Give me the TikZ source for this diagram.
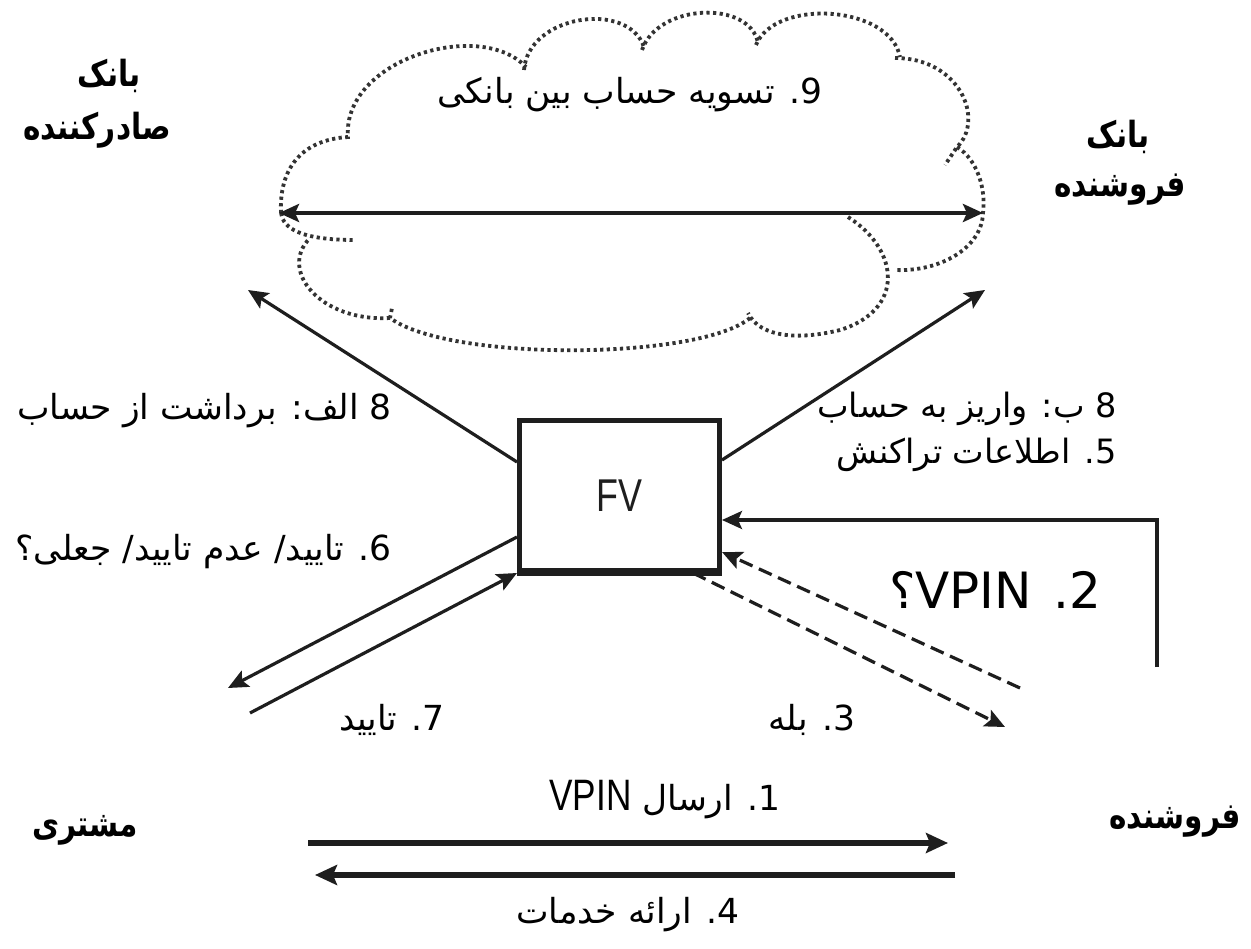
\documentclass[tikz,border=0pt]{standalone}
\usepackage{fontspec}
\usetikzlibrary{arrows.meta,calc}
\TeXXeTstate=1
\setmainfont{Liberation Sans}
\newfontfamily\ar[Script=Arabic]{DejaVu Sans}
\newfontfamily\dv{DejaVu Sans}
\definecolor{ink}{HTML}{1E1E1E}
\definecolor{cloudc}{HTML}{333333}
\newcommand{\bl}[1]{\scalebox{0.82}[1]{\beginR #1\endR}}
\begin{document}
\begin{tikzpicture}[x=1pt,y=-1pt,
  lbl/.style={inner sep=0pt, font=\ar\fontsize{34.5}{40}\selectfont},
  blbl/.style={inner sep=0pt, font=\ar\bfseries\fontsize{36}{42}\selectfont},
  arr/.style={draw=ink, line width=3.2pt, -{Stealth[length=20pt,width=18pt,inset=4pt]}},
  thickarr/.style={draw=ink, line width=5.5pt, -{Stealth[length=22pt,width=20pt,inset=4pt]}},
  dasharr/.style={arr, dash pattern=on 14pt off 7pt},
  cloudline/.style={draw=cloudc, line width=3.8pt, dash pattern=on 3.2pt off 3.4pt}
]
\useasboundingbox (0,0) rectangle (1251,949);
\fill[white] (0,0) rectangle (1251,949);

% cloud
\draw[cloudline]
  (281,213) .. controls (279,170) and (300,140) .. (348,137)
  .. controls (342,60) and (480,18) .. (526,67);
\draw[cloudline]
  (524,70) .. controls (528,15) and (628,0) .. (644,47);
\draw[cloudline]
  (642,50) .. controls (658,3) and (750,0) .. (758,43);
\draw[cloudline]
  (756,45) .. controls (775,-2) and (890,5) .. (900,57);
\draw[cloudline]
  (895,58) .. controls (960,58) and (985,120) .. (957,147) -- (945,165);
\draw[cloudline]
  (957,147) .. controls (978,160) and (986,190) .. (983,213)
  .. controls (982,248) and (940,272) .. (895,270);
\draw[cloudline]
  (848,217) .. controls (900,250) and (905,310) .. (840,330)
  .. controls (800,340) and (760,338) .. (748,313);
\draw[cloudline]
  (750,318) .. controls (700,360) and (450,362) .. (390,318) -- (392,308);
\draw[cloudline]
  (390,318) .. controls (320,322) and (278,270) .. (310,238);
\draw[cloudline]
  (281,213) .. controls (283,228) and (300,240) .. (355,240);

% double arrow 9
\coordinate (c9l) at (279,213);
\coordinate (c9r) at (983,213);
\draw[draw=ink, line width=4pt, {Stealth[length=20pt,width=18pt,inset=4pt]}-{Stealth[length=20pt,width=18pt,inset=4pt]}] (c9l) -- (c9r);

% FV box
\node[draw=ink, line width=5pt, minimum width=200pt, minimum height=150pt, inner sep=0pt,
      font=\fontsize{46}{46}\selectfont] (fv) at (619.5,495.5) {\scalebox{0.78}[1]{\color{ink}FV}};
\draw[ink, line width=8pt] ([yshift=1.5pt]fv.south west) -- ([yshift=1.5pt]fv.south east);

% free ends
\coordinate (e8a) at (248,290);
\coordinate (e8b) at (985,290);
\coordinate (e6) at (228,688);
\coordinate (s7) at (250,713);
\coordinate (s5) at (1157,667);
\coordinate (s2) at (1020,688);
\coordinate (e3) at (1005,727);
\coordinate (s1) at (308,843);
\coordinate (e1) at (948,843);
\coordinate (s4) at (955,875);
\coordinate (e4) at (315,875);

\draw[arr] ([yshift=33.5pt]fv.west) -- (e8a);
\draw[arr] ([yshift=35.5pt]fv.east) -- (e8b);
\draw[arr] ([yshift=-41.5pt]fv.west) -- (e6);
\draw[arr] (s7) -- (fv.south west);
\draw[arr] (s5) |- ([yshift=-24.5pt]fv.east);
\draw[dasharr] (s2) -- ([yshift=-56.5pt]fv.east);
\draw[dasharr] ([xshift=-29pt]fv.south east) -- (e3);
\draw[thickarr] (s1) -- (e1);
\draw[thickarr] (s4) -- (e4);

% labels
\node[blbl] (bk1) at (109,76) {\bl{بانک}};
\node[blbl] (bk1b) at (97,130) {\bl{صادرکننده}};
\node[blbl] (bk2) at (1118,137) {\bl{بانک}};
\node[blbl] (bk2b) at (1120,190) {\bl{فروشنده}};
\node[blbl] (cust) at (85,830) {\bl{مشتری}};
\node[blbl] (merch) at (1175,822) {\bl{فروشنده}};

\node[lbl] (t9) at (630,95) {\beginR 9\kern0pt. تسویه حساب بین بانکی\endR};
\node[lbl, anchor=east] (t8a) at (392,411) {\beginR 8 الف\kern0pt: برداشت از حساب\endR};
\node[lbl, anchor=east] (t6) at (392,552) {\beginR 6\kern0pt. تایید\kern0pt/ عدم تایید\kern0pt/ جعلی\kern0pt؟\endR};
\node[lbl, anchor=east, font=\ar\fontsize{33.5}{40}\selectfont] (t8b) at (1117,409) {\beginR 8 ب\kern0pt: واریز به حساب\endR};
\node[lbl, anchor=east, font=\ar\fontsize{33.5}{40}\selectfont] (t5) at (1117,455) {\beginR 5\kern0pt. اطلاعات تراکنش\endR};
\node[inner sep=0pt, font=\ar\fontsize{50}{56}\selectfont] (t2) at (995,590)
  {\beginR 2\kern0pt. \beginL{\dv VPIN}\endL\kern0pt؟\endR};
\node[lbl] (t7) at (392,720) {\beginR 7\kern0pt. تایید\endR};
\node[lbl] (t3) at (812,720) {\beginR 3\kern0pt. بله\endR};
\node[lbl] (t1) at (665,800) {\beginR 1\kern0pt. ارسال \beginL{\rmfamily\fontsize{44}{48}\selectfont\scalebox{0.8}[1]{VPIN}}\endL\endR};
\node[lbl] (t4) at (628,915) {\beginR 4\kern0pt. ارائه خدمات\endR};
\end{tikzpicture}
\end{document}
